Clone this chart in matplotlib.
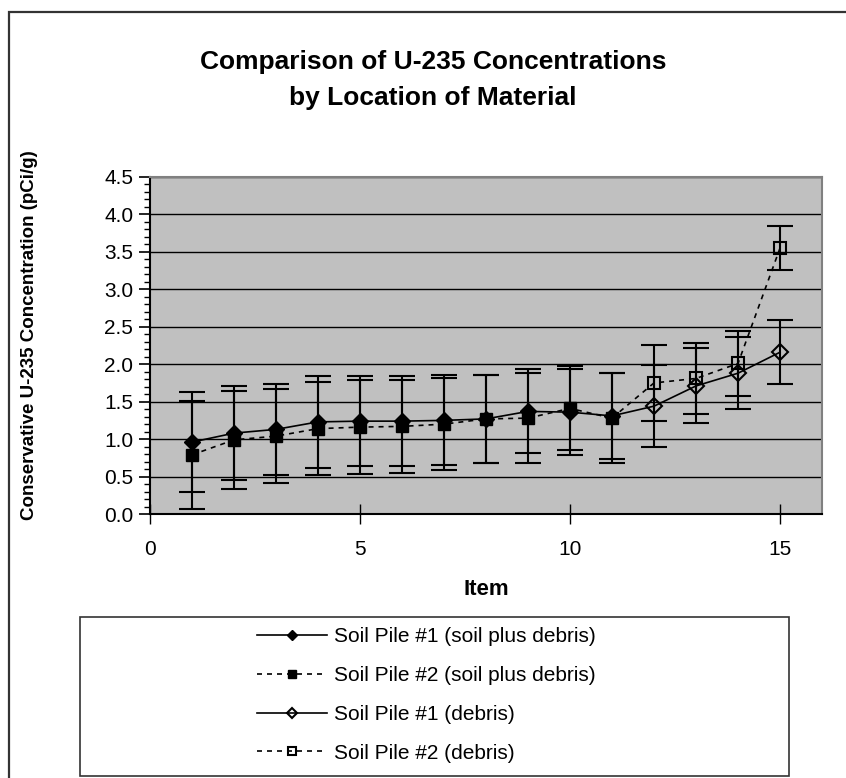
import matplotlib
matplotlib.use('Agg')
import matplotlib.pyplot as plt
from matplotlib.patches import Rectangle
from matplotlib.ticker import MultipleLocator, FormatStrFormatter

plt.rcParams['font.family'] = ['Liberation Sans', 'DejaVu Sans']

# items 1-11: soil plus debris, items 12-15: debris
items_mix = [1, 2, 3, 4, 5, 6, 7, 8, 9, 10, 11]
pile1_mix = [0.96, 1.08, 1.13, 1.23, 1.24, 1.24, 1.25, 1.27, 1.37, 1.36, 1.31]
pile1_mix_err = [0.67, 0.63, 0.61, 0.61, 0.60, 0.60, 0.60, 0.59, 0.56, 0.57, 0.57]
pile2_mix = [0.79, 0.99, 1.04, 1.14, 1.16, 1.17, 1.20, 1.27, 1.28, 1.41, 1.28]
pile2_mix_err = [0.72, 0.65, 0.63, 0.62, 0.63, 0.62, 0.61, 0.59, 0.60, 0.56, 0.60]

items_debris = [12, 13, 14, 15]
pile1_debris = [1.44, 1.71, 1.88, 2.16]
pile1_debris_err = [0.55, 0.50, 0.48, 0.43]
pile2_debris = [1.75, 1.81, 2.01, 3.55]
pile2_debris_err = [0.51, 0.48, 0.44, 0.29]

labels = ['Soil Pile #1 (soil plus debris)', 'Soil Pile #2 (soil plus debris)',
          'Soil Pile #1 (debris)', 'Soil Pile #2 (debris)']

fig = plt.figure(figsize=(8.46, 7.78), dpi=100)
ax = fig.add_axes([150/846, 1-514/778, 672/846, 337/778])
ax.set_facecolor('#c0c0c0')

dash = (0, (3, 3))
eb = dict(fmt='none', ecolor='black', elinewidth=1.5, capsize=9.5, capthick=1.5, zorder=3)
ax.errorbar(items_mix, pile1_mix, yerr=pile1_mix_err, **eb)
ax.errorbar(items_mix, pile2_mix, yerr=pile2_mix_err, **eb)
ax.errorbar(items_debris, pile1_debris, yerr=pile1_debris_err, **eb)
ax.errorbar(items_debris, pile2_debris, yerr=pile2_debris_err, **eb)

# debris lines start from the last mixed point
h4, = ax.plot([items_mix[-1]] + items_debris, [pile2_mix[-1]] + pile2_debris, color='black',
              linestyle=dash, linewidth=1.2, marker='s', markersize=9,
              markerfacecolor='none', markeredgewidth=1.5, markevery=[1, 2, 3, 4], zorder=4)
h3, = ax.plot([items_mix[-1]] + items_debris, [pile1_mix[-1]] + pile1_debris, color='black',
              linestyle='-', linewidth=1.2, marker='D', markersize=8,
              markerfacecolor='none', markeredgewidth=1.5, markevery=[1, 2, 3, 4], zorder=4)
h2, = ax.plot(items_mix, pile2_mix, color='black', linestyle=dash, linewidth=1.2,
              marker='s', markersize=9, zorder=5)
h1, = ax.plot(items_mix, pile1_mix, color='black', linestyle='-', linewidth=1.2,
              marker='D', markersize=8, zorder=5)

ax.set_xlim(0, 16)
ax.set_ylim(0, 4.5)
ax.xaxis.set_major_locator(MultipleLocator(5))
ax.yaxis.set_major_locator(MultipleLocator(0.5))
ax.yaxis.set_minor_locator(MultipleLocator(0.1))
ax.yaxis.set_major_formatter(FormatStrFormatter('%.1f'))
ax.grid(axis='y', which='major', color='black', linewidth=1)
ax.set_axisbelow(True)

ax.tick_params(axis='x', which='major', direction='inout', length=14, width=1, labelsize=15, pad=12)
ax.tick_params(axis='y', which='major', direction='out', length=8, width=1.2, labelsize=15, pad=4)
ax.tick_params(axis='y', which='minor', direction='out', length=4, width=1)
for s in ['left', 'bottom']:
    ax.spines[s].set_linewidth(1.5)
for s in ['top', 'right']:
    ax.spines[s].set_color('#808080')
    ax.spines[s].set_linewidth(1.5)

ax.set_xlabel('Item', fontsize=16, fontweight='bold', labelpad=14)
ax.set_ylabel('Conservative U-235 Concentration (pCi/g)', fontsize=13.5, fontweight='bold')
ax.yaxis.set_label_coords(-112/672, 0.53)

fig.text(433/846, 1-62/778, 'Comparison of U-235 Concentrations', ha='center', va='center',
         fontsize=19, fontweight='bold')
fig.text(433/846, 1-98/778, 'by Location of Material', ha='center', va='center',
         fontsize=19, fontweight='bold')

# outer chart border (runs off the right and bottom edges)
fig.patches.append(Rectangle((9/846, -0.05), 1.1, 1-12/778+0.05, transform=fig.transFigure,
                             fill=False, edgecolor='#333333', linewidth=1.6, clip_on=False))
# legend box
fig.patches.append(Rectangle((80/846, 1-776/778), 709/846, 159/778, transform=fig.transFigure,
                             fill=False, edgecolor='#333333', linewidth=1.2))

fig.legend([h1, h2, h3, h4], labels, loc='center', bbox_to_anchor=(426/846, 1-695/778),
           frameon=False, fontsize=15, handlelength=3.4, handletextpad=0.3, labelspacing=0.95,
           markerscale=0.7)

plt.savefig('out.png', dpi=100)
